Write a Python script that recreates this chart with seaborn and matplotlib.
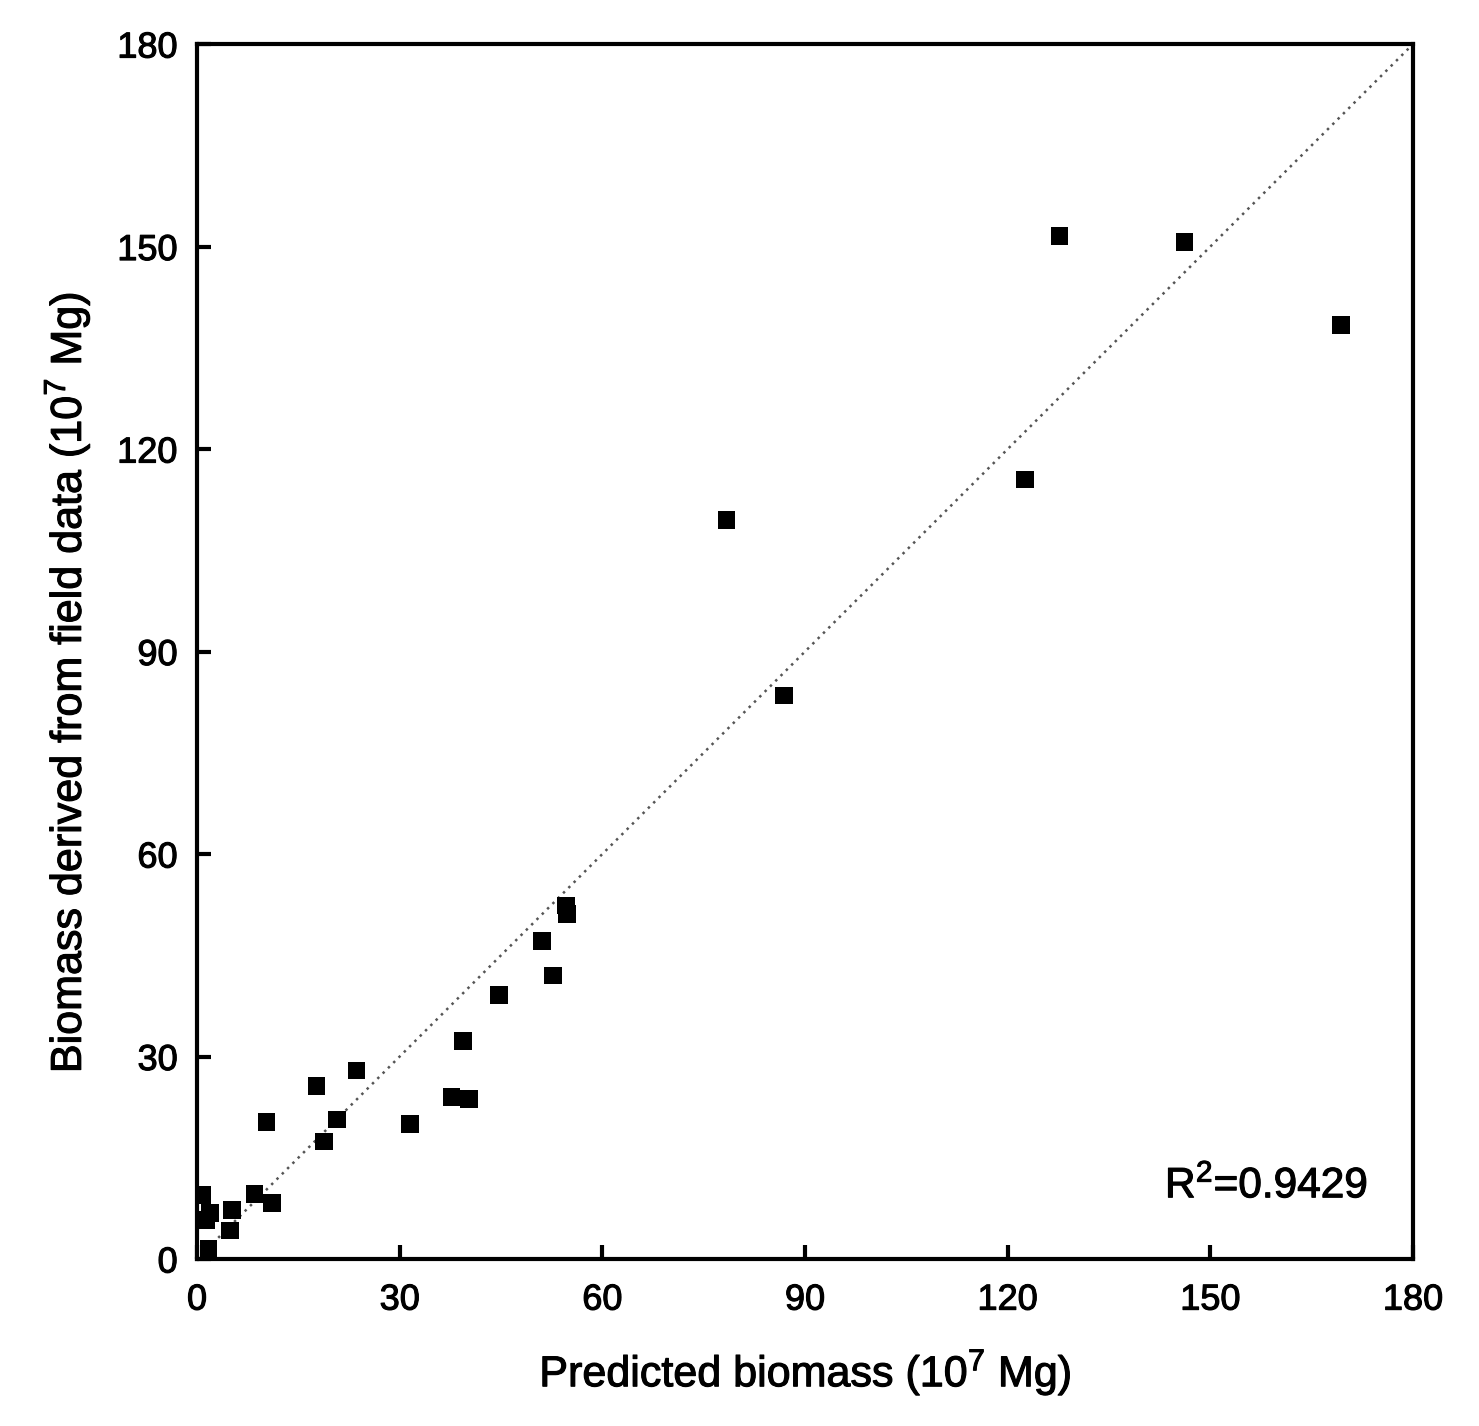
import matplotlib
matplotlib.use("Agg")
import matplotlib.patheffects as pe
import matplotlib.pyplot as plt
import pandas as pd
import seaborn as sns

# values (10^7 Mg)
predicted = [127.7, 146.2, 169.3, 122.6, 78.4, 86.9,
             54.6, 54.8, 51.1, 52.7, 44.7, 39.4, 37.7, 40.3, 31.5,
             23.6, 17.7, 10.3, 20.7, 18.8,
             0.8, 1.9, 1.4, 5.2, 8.5, 11.1, 4.9, 1.7]
field = [151.6, 150.7, 138.4, 115.5, 109.5, 83.5,
         52.4, 51.1, 47.1, 42.0, 39.1, 32.3, 24.0, 23.7, 20.0,
         27.9, 25.6, 20.3, 20.7, 17.4,
         9.5, 6.8, 5.8, 7.3, 9.6, 8.3, 4.2, 1.5]
ticks = [0, 30, 60, 90, 120, 150, 180]
r2_text = "R$^{2}$=0.9429"

df = pd.DataFrame({"predicted": predicted, "field": field})

sns.set_theme(style="ticks")
plt.rcParams["font.family"] = ["Liberation Sans", "DejaVu Sans"]
plt.rcParams["mathtext.fontset"] = "custom"
plt.rcParams["mathtext.rm"] = "Liberation Sans"
plt.rcParams["mathtext.default"] = "regular"
plt.rcParams["text.color"] = "black"
plt.rcParams["axes.labelcolor"] = "black"
plt.rcParams["xtick.color"] = "black"
plt.rcParams["ytick.color"] = "black"

fig = plt.figure(figsize=(14.79, 14.26), dpi=100)
ax = fig.add_axes([0.1332, 0.1171, 0.8222, 0.852])

ax.plot([0, 180], [0, 180], linestyle=(0, (1, 2)), color="#555555", linewidth=1.8, zorder=1)
sns.scatterplot(data=df, x="predicted", y="field", marker="s", s=160, color="black",
                edgecolor="none", linewidth=0, ax=ax, zorder=3)

ax.set_xlim(0, 180)
ax.set_ylim(0, 180)
ax.set_xticks(ticks)
ax.set_yticks(ticks)
ax.tick_params(direction="in", length=10, width=3, labelsize=26, color="black")
ax.tick_params(axis="x", pad=17)
ax.tick_params(axis="y", pad=14)
for spine in ax.spines.values():
    spine.set_visible(True)
    spine.set_linewidth(3)
    spine.set_color("black")

ax.set_xlabel("Predicted biomass (10$^{7}$ Mg)", fontsize=31, labelpad=22)
ax.set_ylabel("Biomass derived from field data (10$^{7}$ Mg)", fontsize=31, labelpad=18)
ax.yaxis.label.set_y(0.474)
r2 = ax.text(0.963, 0.06, r2_text, transform=ax.transAxes, fontsize=30.5, ha="right", va="center")

# the reference text is a little heavier than plain Liberation Sans
thicker = [pe.withStroke(linewidth=0.8, foreground="black")]
for txt in ax.get_xticklabels() + ax.get_yticklabels() + [ax.xaxis.label, ax.yaxis.label, r2]:
    txt.set_path_effects(thicker)

fig.savefig("out.png", dpi=100)
